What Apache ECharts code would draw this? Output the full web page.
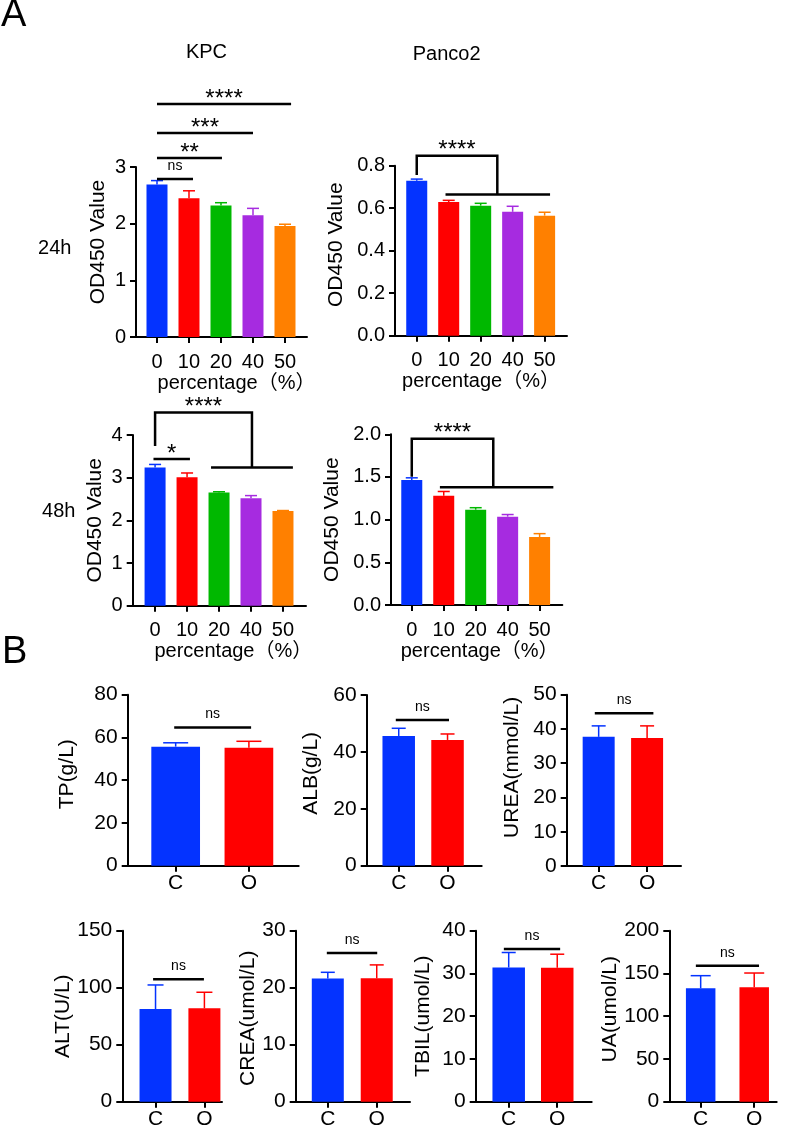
<!DOCTYPE html>
<html><head><meta charset="utf-8">
<script src="https://cdn.jsdelivr.net/npm/echarts@6/dist/echarts.min.js"></script>
<style>html,body{margin:0;padding:0;background:#fff}#c{width:787px;height:1131px}</style>
</head><body><div id="c"></div><script>
const FONT = '"Liberation Sans", Arial, "Noto Sans CJK SC", sans-serif';

// ---- categories & colours ----
const pctCats = ['0', '10', '20', '40', '50'];
const pctColors = ['#0433FF', '#FF0000', '#00B800', '#A62BE0', '#FF8000'];
const grpCats = ['C', 'O'];
const grpColors = ['#0433FF', '#FF0000'];

// ---- panel A values (mean, SD) ----
const kpc24Mean = [2.69, 2.45, 2.32, 2.15, 1.96];
const kpc24Sd = [0.07, 0.13, 0.05, 0.12, 0.03];
const panco24Mean = [0.729, 0.629, 0.612, 0.583, 0.565];
const panco24Sd = [0.008, 0.008, 0.011, 0.026, 0.016];
const kpc48Mean = [3.24, 3.01, 2.65, 2.52, 2.22];
const kpc48Sd = [0.07, 0.10, 0.02, 0.06, 0.01];
const panco48Mean = [1.465, 1.28, 1.117, 1.035, 0.797];
const panco48Sd = [0.025, 0.05, 0.023, 0.025, 0.039];

// ---- panel B values (mean, SD) ----
const tpMean = [55.7, 55.2], tpSd = [1.8, 3.0];
const albMean = [45.6, 44.2], albSd = [2.7, 2.1];
const ureaMean = [37.7, 37.35], ureaSd = [3.2, 3.55];
const altMean = [81.3, 81.9], altSd = [21.1, 14.1];
const creaMean = [21.6, 21.65], creaSd = [1.1, 2.35];
const tbilMean = [31.4, 31.35], tbilSd = [3.5, 3.15];
const uaMean = [132.6, 133.8], uaSd = [14.8, 16.7];

// ---- axis titles & ticks ----
const yTitles = ['OD450 Value', 'OD450 Value', 'OD450 Value', 'OD450 Value',
  'TP(g/L)', 'ALB(g/L)', 'UREA(mmol/L)', 'ALT(U/L)', 'CREA(umol/L)', 'TBIL(umol/L)', 'UA(umol/L)'];
const xTitle = 'percentage（%）';
const yMax = [3, 0.8, 4, 2, 80, 60, 50, 150, 30, 40, 200];
const yStep = [1, 0.2, 1, 0.5, 20, 20, 10, 50, 10, 10, 50];
const yDecimals = [0, 1, 0, 1, 0, 0, 0, 0, 0, 0, 0];

// ---- significance annotations: [x1, x2, y, label] ----
const kpc24Sig = [[0, 1.125, 2.79, 'ns'], [0, 2.03, 3.16, '**'], [0, 3.0, 3.6, '***'], [0, 4.19, 4.11, '****']];
const kpc48Sig = [[-0.05, 1.09, 3.44, '*']];
const tpSig = [[-0.02, 1.03, 64.6, 'ns']];
const albSig = [[-0.06, 1.03, 51.2, 'ns']];
const ureaSig = [[-0.08, 1.13, 44.6, 'ns']];
const altSig = [[-0.05, 0.99, 107.4, 'ns']];
const creaSig = [[-0.02, 1.01, 26.1, 'ns']];
const tbilSig = [[-0.1, 1.06, 35.7, 'ns']];
const uaSig = [[-0.09, 1.09, 159, 'ns']];
// brackets: [xLeft, yLeftBottom, yTop, xMid, yLine, xLineStart, xLineEnd, label]
const panco24Br = [[0, 0.756, 0.847, 2.52, 0.665, 0.9, 4.17, '****']];
const kpc48Br = [[0, 3.74, 4.53, 3.03, 3.24, 1.75, 4.31, '****']];
const panco48Br = [[0, 1.504, 1.949, 2.55, 1.379, 0.88, 4.43, '****']];

// ---- layout (positions only) ----
const layout = [
  {l: 136, r: 307, t: 167, b: 337, xmin: -0.656, xmax: 4.6875, bw: 21, cap: 12, yGap: 27, yUp: 10, xShift: 15, fs: 20},
  {l: 395, r: 567, t: 165.7, b: 335.7, xmin: -0.68, xmax: 4.70, bw: 21, cap: 12, yGap: 48, yUp: 6, xShift: 0, fs: 20},
  {l: 132.7, r: 306, t: 435, b: 605.7, xmin: -0.70, xmax: 4.72, bw: 21, cap: 12, yGap: 27, yUp: 0, xShift: 14, fs: 20},
  {l: 391, r: 562.3, t: 434.3, b: 605, xmin: -0.65, xmax: 4.71, bw: 21, cap: 12, yGap: 48, yUp: 0, xShift: 3, fs: 20},
  {l: 127.7, r: 298.7, t: 694.7, b: 865.7, xmin: -0.655, xmax: 1.68, bw: 48.7, cap: 25, yGap: 50, yUp: 6, fs: 21},
  {l: 366.7, r: 481.7, t: 695, b: 865.7, xmin: -0.656, xmax: 1.70, bw: 32.5, cap: 14, yGap: 45, yUp: 7, fs: 21},
  {l: 566.7, r: 681, t: 694.7, b: 866, xmin: -0.66, xmax: 1.70, bw: 32, cap: 14, yGap: 44, yUp: 13, fs: 21},
  {l: 122.3, r: 222, t: 930.7, b: 1101.7, xmin: -0.68, xmax: 1.36, bw: 32, cap: 16, yGap: 41, yUp: 0, fs: 21},
  {l: 295.7, r: 410, t: 930.7, b: 1101.7, xmin: -0.656, xmax: 1.68, bw: 32, cap: 14, yGap: 37, yUp: -2, fs: 21},
  {l: 475.7, r: 591.7, t: 930.7, b: 1101.7, xmin: -0.68, xmax: 1.71, bw: 32.5, cap: 14, yGap: 42, yUp: 0, fs: 21},
  {l: 669.3, r: 776.7, t: 930.7, b: 1101.7, xmin: -0.586, xmax: 1.42, bw: 29.5, cap: 20, yGap: 46, yUp: 7, fs: 21}
];

const panels = [
  {mean: kpc24Mean, sd: kpc24Sd, cats: pctCats, colors: pctColors, sig: kpc24Sig, br: [], xName: true},
  {mean: panco24Mean, sd: panco24Sd, cats: pctCats, colors: pctColors, sig: [], br: panco24Br, xName: true},
  {mean: kpc48Mean, sd: kpc48Sd, cats: pctCats, colors: pctColors, sig: kpc48Sig, br: kpc48Br, xName: true},
  {mean: panco48Mean, sd: panco48Sd, cats: pctCats, colors: pctColors, sig: [], br: panco48Br, xName: true},
  {mean: tpMean, sd: tpSd, cats: grpCats, colors: grpColors, sig: tpSig, br: []},
  {mean: albMean, sd: albSd, cats: grpCats, colors: grpColors, sig: albSig, br: []},
  {mean: ureaMean, sd: ureaSd, cats: grpCats, colors: grpColors, sig: ureaSig, br: []},
  {mean: altMean, sd: altSd, cats: grpCats, colors: grpColors, sig: altSig, br: []},
  {mean: creaMean, sd: creaSd, cats: grpCats, colors: grpColors, sig: creaSig, br: []},
  {mean: tbilMean, sd: tbilSd, cats: grpCats, colors: grpColors, sig: tbilSig, br: []},
  {mean: uaMean, sd: uaSd, cats: grpCats, colors: grpColors, sig: uaSig, br: []}
];

function labelText(txt, x, y) {
  const isNs = txt === 'ns';
  return {
    type: 'text',
    style: {
      text: txt, x: x, y: isNs ? y - 13 : y - 5,
      align: 'center', verticalAlign: 'middle',
      font: (isNs ? '14px ' : '24px ') + FONT, fill: '#000'
    }
  };
}

const grids = [], xAxes = [], yAxes = [], series = [];
panels.forEach((p, i) => {
  const L = layout[i];
  grids.push({left: L.l, top: L.t, width: L.r - L.l, height: L.b - L.t, containLabel: false});
  const idx = p.cats.map((c, k) => k);
  xAxes.push({
    gridIndex: i, type: 'value', min: L.xmin, max: L.xmax,
    axisLine: {show: true, onZero: false, lineStyle: {color: '#000', width: 2}},
    axisTick: {show: true, customValues: idx, length: 6, lineStyle: {color: '#000', width: 2}},
    axisLabel: {show: true, customValues: idx, formatter: v => p.cats[Math.round(v)], color: '#000',
      fontSize: L.fs, fontFamily: FONT, margin: i < 4 ? 15 : 7},
    splitLine: {show: false},
    name: p.xName ? xTitle : '', nameLocation: 'middle', nameGap: 36,
    nameTextStyle: {color: '#000', fontSize: 20, fontFamily: FONT, padding: [0, 0, 0, 2 * (L.xShift || 0)]}
  });
  const up = L.yUp || 0;
  yAxes.push({
    gridIndex: i, type: 'value', min: 0, max: yMax[i], interval: yStep[i],
    axisLine: {show: true, onZero: false, lineStyle: {color: '#000', width: 2}},
    axisTick: {show: true, length: 6, lineStyle: {color: '#000', width: 2}},
    axisLabel: {color: '#000', fontSize: L.fs, fontFamily: FONT, margin: 10,
      formatter: v => v.toFixed(yDecimals[i])},
    splitLine: {show: false},
    name: yTitles[i], nameLocation: 'middle', nameRotate: 90, nameGap: L.yGap,
    nameTextStyle: {color: '#000', fontSize: 21, fontFamily: FONT,
      padding: up >= 0 ? [0, 0, 0, 2 * up] : [0, -2 * up, 0, 0]}
  });
  series.push({
    type: 'bar', xAxisIndex: i, yAxisIndex: i, barWidth: L.bw, silent: true, z: 2,
    data: p.mean.map((v, k) => ({value: [k, v], itemStyle: {color: p.colors[k]}}))
  });
  series.push({
    type: 'custom', xAxisIndex: i, yAxisIndex: i, silent: true, z: 3, clip: false,
    encode: {x: 0, y: 2},
    data: p.mean.map((v, k) => [k, v, v + p.sd[k]]),
    renderItem: (params, api) => {
      const b = api.coord([api.value(0), api.value(1)]);
      const t = api.coord([api.value(0), api.value(2)]);
      const c = p.colors[params.dataIndex];
      const h = L.cap / 2;
      return {type: 'group', children: [
        {type: 'line', shape: {x1: b[0], y1: b[1], x2: t[0], y2: t[1]}, style: {stroke: c, lineWidth: 1.5}},
        {type: 'line', shape: {x1: t[0] - h, y1: t[1], x2: t[0] + h, y2: t[1]}, style: {stroke: c, lineWidth: 1.5}}
      ]};
    }
  });
  if (p.sig.length) {
    series.push({
      type: 'custom', xAxisIndex: i, yAxisIndex: i, silent: true, z: 4, clip: false,
      encode: {x: 0, y: 1},
      data: p.sig.map(s => [s[0], s[2], s[1]]),
      renderItem: (params, api) => {
        const a = api.coord([api.value(0), api.value(1)]);
        const e = api.coord([api.value(2), api.value(1)]);
        return {type: 'group', children: [
          {type: 'line', shape: {x1: a[0], y1: a[1], x2: e[0], y2: e[1]}, style: {stroke: '#000', lineWidth: 2.5}},
          labelText(p.sig[params.dataIndex][3], (a[0] + e[0]) / 2, a[1])
        ]};
      }
    });
  }
  if (p.br.length) {
    series.push({
      type: 'custom', xAxisIndex: i, yAxisIndex: i, silent: true, z: 4, clip: false,
      encode: {x: 0, y: 2},
      data: p.br.map(s => s.slice(0, 7)),
      renderItem: (params, api) => {
        const v = k => api.value(k);
        const p1 = api.coord([v(0), v(1)]);
        const p2 = api.coord([v(0), v(2)]);
        const p3 = api.coord([v(3), v(2)]);
        const p4 = api.coord([v(3), v(4)]);
        const s1 = api.coord([v(5), v(4)]);
        const s2 = api.coord([v(6), v(4)]);
        return {type: 'group', children: [
          {type: 'polyline', shape: {points: [p1, p2, p3, p4]}, style: {stroke: '#000', lineWidth: 2.5, fill: null}},
          {type: 'line', shape: {x1: s1[0], y1: s1[1], x2: s2[0], y2: s2[1]}, style: {stroke: '#000', lineWidth: 2.5}},
          labelText(p.br[params.dataIndex][7], (p2[0] + p3[0]) / 2, p2[1])
        ]};
      }
    });
  }
});

const txt = (text, x, y, size, align) => ({
  type: 'text', x: x, y: y, silent: true,
  style: {text: text, font: size + 'px ' + FONT, fill: '#000', align: align || 'center', verticalAlign: 'middle'}
});

const chart = echarts.init(document.getElementById('c'), null, {renderer: 'canvas'});
chart.setOption({
  backgroundColor: '#fff',
  animation: false,
  grid: grids, xAxis: xAxes, yAxis: yAxes, series: series,
  graphic: [
    txt('A', 1, 16, 38, 'left'),
    txt('B', 2, 653, 38, 'left'),
    txt('KPC', 206.5, 52.5, 20),
    txt('Panco2', 446.7, 54.5, 20),
    txt('24h', 54.7, 248, 20),
    txt('48h', 58.8, 511, 20)
  ]
});
</script></body></html>
